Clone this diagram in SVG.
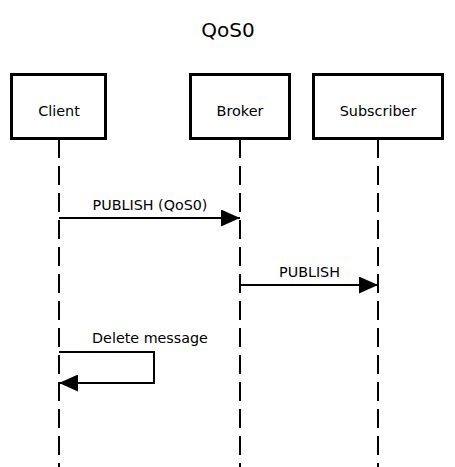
<svg xmlns="http://www.w3.org/2000/svg" width="455" height="467" viewBox="0 0 455 467">
<style>
text{font-family:"DejaVu Sans",sans-serif;fill:#000;text-anchor:middle}
.box{fill:#fff;stroke:#000;stroke-width:3}
.life{stroke:#000;stroke-width:2;stroke-dasharray:19 8;fill:none}
.msg{stroke:#000;stroke-width:2;fill:none}
.lbl{font-size:14.3px}
.t{font-size:14.4px}
</style>
<defs>
<marker id="ah" markerWidth="20" markerHeight="17" refX="19" refY="8.5" orient="auto" markerUnits="userSpaceOnUse">
<path d="M0,0 L19,8.5 L0,17 Z" fill="#000"/>
</marker>
</defs>
<rect width="455" height="467" fill="#fff"/>
<text x="228" y="37" style="font-size:20px">QoS0</text>
<g id="connectors">
<line class="life" x1="59" y1="139" x2="59" y2="467"/>
<line class="life" x1="240" y1="139" x2="240" y2="467"/>
<line class="life" x1="378" y1="139" x2="378" y2="467"/>
<path class="msg" d="M59,218 H240" marker-end="url(#ah)"/>
<text class="lbl" x="150" y="210">PUBLISH (QoS0)</text>
<path class="msg" d="M240,285 H378" marker-end="url(#ah)"/>
<text class="lbl" x="309.5" y="277">PUBLISH</text>
<path class="msg" d="M59,352 H154 V383 H59" marker-end="url(#ah)"/>
<text class="lbl" x="150" y="343">Delete message</text>
</g>
<g id="client"><rect class="box" x="11.5" y="74.5" width="94" height="64"/><text class="t" x="59" y="116">Client</text></g>
<g id="broker"><rect class="box" x="190.5" y="74.5" width="99" height="64"/><text class="t" x="240" y="116">Broker</text></g>
<g id="subscriber"><rect class="box" x="313.5" y="74.5" width="129" height="64"/><text class="t" x="378" y="116">Subscriber</text></g>
</svg>
